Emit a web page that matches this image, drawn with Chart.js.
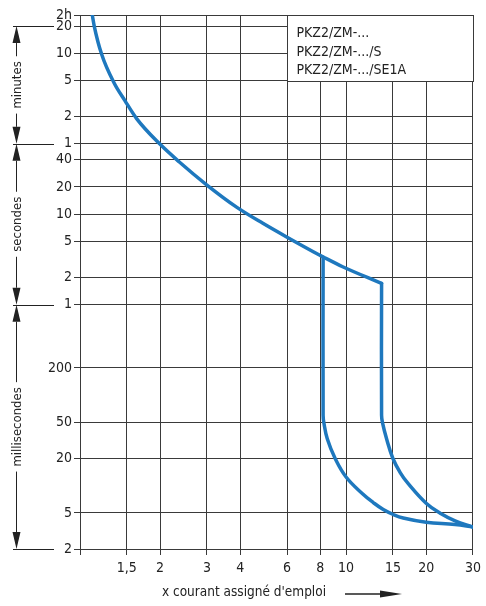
<!DOCTYPE html>
<html>
<head>
<meta charset="utf-8">
<script src="https://cdn.jsdelivr.net/npm/chart.js@4/dist/chart.umd.min.js"></script>
<style>
    html, body { margin: 0; padding: 0; background: #fff; }
</style>
</head>
<body>
<canvas id="curveChart" width="486" height="606"></canvas>
<script>
var FONT = "'DejaVu Sans Condensed', 'DejaVu Sans', sans-serif";

// axe x : multiple du courant assigné d'emploi
var xTicks = [1, 1.5, 2, 3, 4, 6, 8, 10, 15, 20, 30];
var xTickLabels = ['', '1,5', '2', '3', '4', '6', '8', '10', '15', '20', '30'];

// axe y : temps en secondes (2h = haut du diagramme)
var yTicks = [0.002, 0.005, 0.02, 0.05, 0.2, 1, 2, 5, 10, 20, 40, 60, 120, 300, 600, 1200, 1590];
var yTickLabels = ['2', '5', '20', '50', '200', '1', '2', '5', '10', '20', '40', '1', '2', '5', '10', '20', '2h'];

// partie haute de la courbe (jusqu'au coude de la version /S)
var upperX = [1.112, 1.131, 1.206, 1.345, 1.475, 1.632, 1.983, 2.357, 3.0, 3.889, 4.868, 5.957, 7.94, 8.2, 9.71, 13.6];
var upperY = [1590, 1201, 585, 280, 180, 114, 60.7, 38, 21, 11.9, 7.93, 5.64, 3.54, 3.37, 2.63, 1.72];

// branche de droite (verticale à ~13,6 x Ie)
var rightX = [13.6, 13.6, 13.7, 14.2, 15.0, 16.0, 17.1, 20.0, 22.5, 25.7, 30];
var rightY = [1.72, 0.06, 0.05, 0.033, 0.02, 0.0139, 0.0106, 0.0064, 0.005, 0.0041, 0.0035];

// branche de gauche (verticale à ~8,2 x Ie)
var leftX = [8.2, 8.2, 8.25, 8.5, 9.1, 10.0, 11.56, 12.66, 13.8, 15.05, 16.4, 20.0, 25.7, 30];
var leftY = [3.37, 0.06, 0.05, 0.033, 0.02, 0.0125, 0.0081, 0.00652, 0.00546, 0.00481, 0.0044, 0.00395, 0.00374, 0.0035];

var unitNames = ['minutes', 'secondes', 'millisecondes'];
var unitBounds = [1200, 60, 1, 0.002];

var legendLines = ['PKZ2/ZM-...', 'PKZ2/ZM-.../S', 'PKZ2/ZM-.../SE1A'];
var xTitle = "x courant assigné d'emploi";

var curveColor = '#1e78be';
var gridColor = '#3a3a3a';

function toPoints(xs, ys) {
    var pts = [];
    for (var i = 0; i < xs.length; i++) {
        pts.push({ x: xs[i], y: ys[i] });
    }
    return pts;
}

function curve(xs, ys, opts) {
    var ds = {
        data: toPoints(xs, ys),
        showLine: true,
        borderColor: curveColor,
        borderWidth: 3.5,
        pointRadius: 0,
        tension: 0.4,
        borderJoinStyle: 'round',
        borderCapStyle: 'round'
    };
    for (var k in opts) ds[k] = opts[k];
    return ds;
}

function arrowHead(ctx, x, tipY, dir) {
    ctx.beginPath();
    ctx.moveTo(x, tipY);
    ctx.lineTo(x - 4, tipY - dir * 17);
    ctx.lineTo(x + 4, tipY - dir * 17);
    ctx.closePath();
    ctx.fill();
}

var decorPlugin = {
    id: 'decor',
    afterDraw: function (chart) {
        var ctx = chart.ctx;
        var xs = chart.scales.x;
        var ys = chart.scales.y;
        var area = chart.chartArea;
        ctx.save();

        // cadre des références
        var bx = Math.round(xs.getPixelForValue(6)) + 0.5;
        var by = Math.round(area.top) + 0.5;
        var bw = Math.round(area.right) + 0.5 - bx;
        var bh = Math.round(ys.getPixelForValue(300)) + 0.5 - by;
        ctx.fillStyle = '#fff';
        ctx.fillRect(bx, by, bw, bh);
        ctx.strokeStyle = gridColor;
        ctx.lineWidth = 1;
        ctx.strokeRect(bx, by, bw, bh);
        ctx.fillStyle = '#222';
        ctx.font = '14px ' + FONT;
        ctx.textAlign = 'left';
        ctx.textBaseline = 'middle';
        for (var i = 0; i < legendLines.length; i++) {
            ctx.fillText(legendLines[i], bx + 9, by + 18 + i * 18.5);
        }

        // cotes minutes / secondes / millisecondes
        ctx.strokeStyle = '#222';
        ctx.fillStyle = '#222';
        ctx.lineWidth = 1;
        var lx = 16.5;
        for (var j = 0; j < unitBounds.length; j++) {
            var yy = Math.round(ys.getPixelForValue(unitBounds[j])) + 0.5;
            ctx.beginPath();
            ctx.moveTo(13, yy);
            ctx.lineTo(54, yy);
            ctx.stroke();
        }
        ctx.font = '13px ' + FONT;
        for (var k = 0; k < unitNames.length; k++) {
            var top = ys.getPixelForValue(unitBounds[k]);
            var bottom = ys.getPixelForValue(unitBounds[k + 1]);
            var mid = (top + bottom) / 2;
            var w = ctx.measureText(unitNames[k]).width;
            arrowHead(ctx, lx, top, -1);
            arrowHead(ctx, lx, bottom, 1);
            ctx.beginPath();
            ctx.moveTo(lx, top + 17);
            ctx.lineTo(lx, mid - w / 2 - 5);
            ctx.moveTo(lx, mid + w / 2 + 5);
            ctx.lineTo(lx, bottom - 17);
            ctx.stroke();
            ctx.save();
            ctx.translate(lx + 1, mid);
            ctx.rotate(-Math.PI / 2);
            ctx.textAlign = 'center';
            ctx.textBaseline = 'middle';
            ctx.fillText(unitNames[k], 0, 0);
            ctx.restore();
        }

        // titre de l'axe x avec flèche
        ctx.font = '13.5px ' + FONT;
        ctx.textAlign = 'center';
        ctx.textBaseline = 'middle';
        ctx.fillText(xTitle, 244, 592);
        ctx.lineWidth = 1.5;
        ctx.beginPath();
        ctx.moveTo(345, 594);
        ctx.lineTo(384, 594);
        ctx.stroke();
        ctx.beginPath();
        ctx.moveTo(380, 590.5);
        ctx.lineTo(402, 594);
        ctx.lineTo(380, 597.5);
        ctx.closePath();
        ctx.fill();

        ctx.restore();
    }
};

var ctx = document.getElementById('curveChart').getContext('2d');

var chart = new Chart(ctx, {
    type: 'scatter',
    data: {
        datasets: [
            curve(upperX, upperY, { cubicInterpolationMode: 'monotone' }),
            curve(rightX, rightY, {}),
            curve(leftX, leftY, {})
        ]
    },
    options: {
        responsive: false,
        animation: false,
        layout: { padding: { top: 15, right: 12, left: 0, bottom: 0 } },
        plugins: {
            legend: { display: false },
            tooltip: { enabled: false }
        },
        scales: {
            x: {
                type: 'logarithmic',
                min: 1,
                max: 30,
                afterBuildTicks: function (scale) {
                    scale.ticks = xTicks.map(function (v) { return { value: v }; });
                },
                afterFit: function (scale) { scale.height = 57; },
                ticks: {
                    autoSkip: false,
                    maxRotation: 0,
                    padding: 5,
                    color: '#222',
                    font: { family: FONT, size: 14 },
                    callback: function (value) {
                        return xTickLabels[xTicks.indexOf(value)];
                    }
                },
                grid: { color: gridColor, lineWidth: 1, tickLength: 6 },
                border: { color: gridColor }
            },
            y: {
                type: 'logarithmic',
                min: 0.002,
                max: 1590,
                afterBuildTicks: function (scale) {
                    scale.ticks = yTicks.map(function (v) { return { value: v }; });
                },
                afterFit: function (scale) { scale.width = 80; },
                ticks: {
                    autoSkip: false,
                    padding: 2,
                    color: '#222',
                    font: { family: FONT, size: 14 },
                    callback: function (value) {
                        return yTickLabels[yTicks.indexOf(value)];
                    }
                },
                grid: { color: gridColor, lineWidth: 1, tickLength: 6 },
                border: { color: gridColor }
            }
        }
    },
    plugins: [decorPlugin]
});
</script>
</body>
</html>
